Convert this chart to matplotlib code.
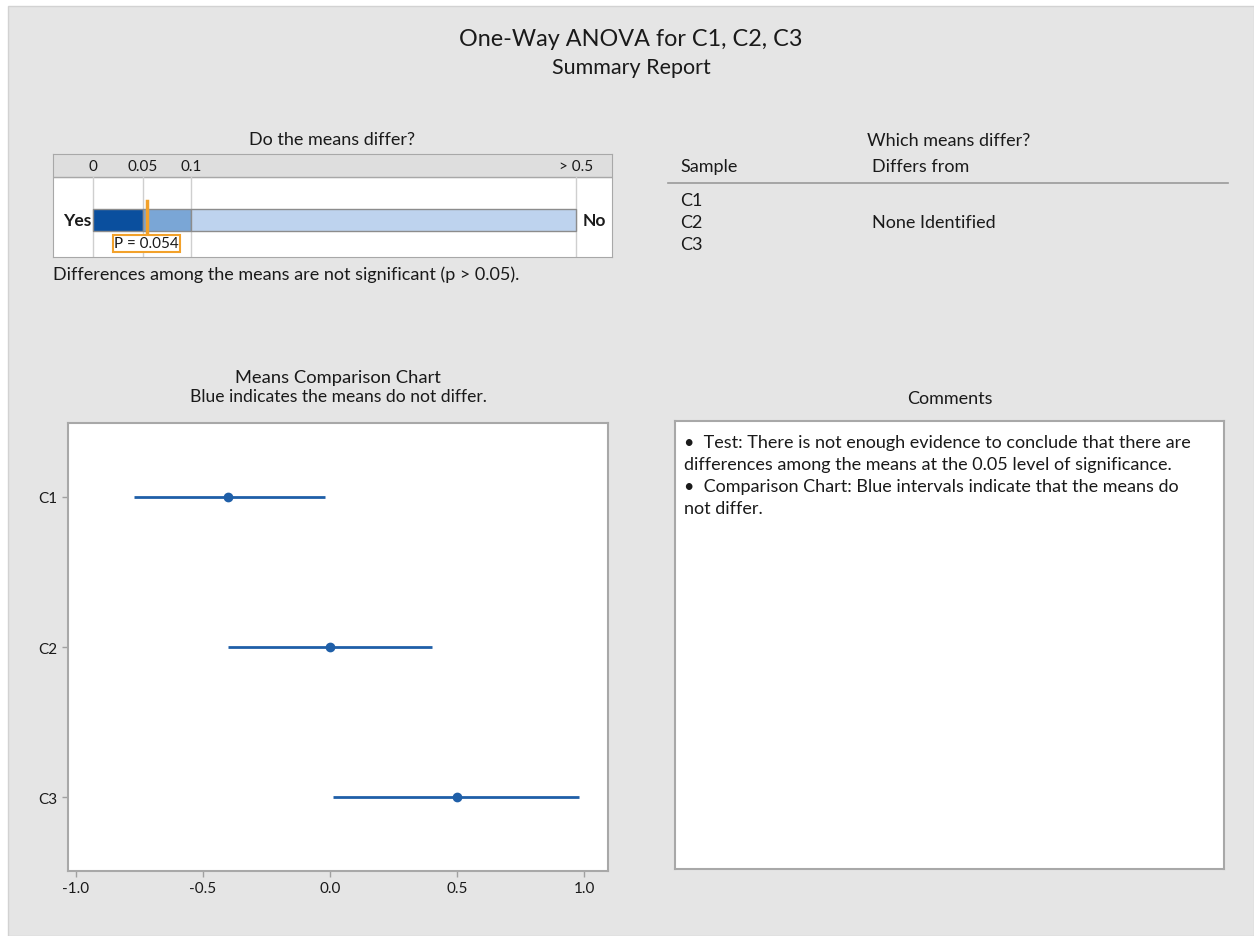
import numpy as np
import matplotlib.pyplot as plt
from matplotlib.patches import Rectangle

plt.rcParams['font.family'] = ['Lato', 'DejaVu Sans']

# p-value scale and result
p_ticks = [0, 0.05, 0.1, 0.5]
p_tick_labels = ['0', '0.05', '0.1', '> 0.5']
p_value = 0.054

# means comparison intervals
samples = ['C1', 'C2', 'C3']
means = [-0.40, 0.00, 0.50]
lower = [-0.77, -0.40, 0.01]
upper = [-0.02, 0.40, 0.98]
x_ticks = [-1.0, -0.5, 0.0, 0.5, 1.0]

comments = [
    "\u2022  Test: There is not enough evidence to conclude that there are",
    "differences among the means at the 0.05 level of significance.",
    "\u2022  Comparison Chart: Blue intervals indicate that the means do",
    "not differ.",
]

W, H = 1254, 937
fig = plt.figure(figsize=(W / 100, H / 100), dpi=100, facecolor='white')


def fx(x):
    return x / W


def fy(y):
    return 1 - y / H


def rect(x0, y0, x1, y1):
    return [x0 / W, 1 - y1 / H, (x1 - x0) / W, (y1 - y0) / H]


bg = '#e5e5e5'
fig.add_artist(Rectangle((fx(8), 0), fx(1254 - 8), fy(7), transform=fig.transFigure,
                         facecolor=bg, edgecolor='#d2d2d2', lw=1, zorder=0))

txt = '#1a1a1a'
body = 13
fig.text(fx(631), fy(40), 'One-Way ANOVA for C1, C2, C3', ha='center', va='center',
         fontsize=16.8, color=txt)
fig.text(fx(631), fy(68), 'Summary Report', ha='center', va='center', fontsize=15.5, color=txt)

# ---- Do the means differ? ----
fig.text(fx(332), fy(140), 'Do the means differ?', ha='center', va='center', fontsize=body, color=txt)
axp = fig.add_axes(rect(53, 155, 612, 258))
axp.set_xlim(53, 612)
axp.set_ylim(258, 155)
axp.set_xticks([])
axp.set_yticks([])
for s in axp.spines.values():
    s.set_color('#a8a8a8')
tick_px = [93, 143, 191, 576]  # where each scale tick sits in the box


def p2x(p):
    return np.interp(p, p_ticks, tick_px)


axp.axhspan(155, 178, color='#dedede', zorder=0)
axp.axhline(178, color='#a8a8a8', lw=1)
for p, lab in zip(p_ticks, p_tick_labels):
    axp.plot([p2x(p)] * 2, [178, 258], color='#cfcfcf', lw=1)
    axp.text(p2x(p), 167, lab, ha='center', va='center', fontsize=11, color=txt)
seg_colors = ['#0a4f9e', '#7aa6d6', '#bed3ee']
for i in range(3):
    x0, x1 = p2x(p_ticks[i]), p2x(p_ticks[i + 1])
    axp.add_patch(Rectangle((x0, 210), x1 - x0, 22, facecolor=seg_colors[i],
                            edgecolor='#8c8c8c', lw=1, zorder=2))
px = p2x(p_value)
axp.plot([px, px], [202, 236], color='#f2a12a', lw=2.5, zorder=3)
axp.text(px, 244.5, f'P = {p_value:.3f}', ha='center', va='center', fontsize=11, color=txt,
         bbox=dict(boxstyle='square,pad=0.08', facecolor='white', edgecolor='#f2a12a', lw=1.5),
         zorder=4)
axp.text(p2x(0) - 2, 221, 'Yes', ha='right', va='center', fontsize=12.5, fontweight='bold', color=txt)
axp.text(p2x(0.5) + 7, 221, 'No', ha='left', va='center', fontsize=12.5, fontweight='bold', color=txt)
fig.text(fx(53), fy(275), 'Differences among the means are not significant (p > 0.05).',
         ha='left', va='center', fontsize=body, color=txt)

# ---- Which means differ? ----
fig.text(fx(949), fy(141), 'Which means differ?', ha='center', va='center', fontsize=body, color=txt)
fig.text(fx(680), fy(167), 'Sample', ha='left', va='center', fontsize=body, color=txt)
fig.text(fx(872), fy(167), 'Differs from', ha='left', va='center', fontsize=body, color=txt)
fig.add_artist(plt.Line2D([fx(668), fx(1228)], [fy(184), fy(184)], color='#9a9a9a', lw=1.2))
for i, s in enumerate(samples):
    fig.text(fx(680), fy(201 + 22 * i), s, ha='left', va='center', fontsize=body, color=txt)
fig.text(fx(872), fy(223), 'None Identified', ha='left', va='center', fontsize=body, color=txt)

# ---- Means Comparison Chart ----
fig.text(fx(338), fy(378), 'Means Comparison Chart', ha='center', va='center', fontsize=13.2, color=txt)
fig.text(fx(338), fy(397), 'Blue indicates the means do not differ.', ha='center', va='center',
         fontsize=12.6, color=txt)
axm = fig.add_axes(rect(68, 424, 608, 872))
axm.set_facecolor('white')
line_c = '#1f5fa8'
ypos = np.arange(len(samples))
axm.hlines(ypos, lower, upper, color=line_c, lw=2)
axm.plot(means, ypos, 'o', color=line_c, ms=6)
axm.set_xlim(-1.031, 1.094)
axm.set_ylim(2.49, -0.49)
axm.set_xticks(x_ticks)
axm.set_xticklabels([f'{v:.1f}' for v in x_ticks])
axm.set_yticks(ypos)
axm.set_yticklabels(samples)
axm.tick_params(colors='#a0a0a0', labelcolor=txt, labelsize=11, length=4, width=1)
for s in axm.spines.values():
    s.set_color('#a8a8a8')
    s.set_linewidth(1.5)

# ---- Comments ----
fig.text(fx(950), fy(399), 'Comments', ha='center', va='center', fontsize=13, color=txt)
axc = fig.add_axes(rect(675, 422, 1224, 870))
axc.set_xticks([])
axc.set_yticks([])
for s in axc.spines.values():
    s.set_color('#a8a8a8')
    s.set_linewidth(1.5)
for i, line in enumerate(comments):
    fig.text(fx(684), fy(443 + 22 * i), line, ha='left', va='center', fontsize=body, color=txt)

fig.savefig('out.png', dpi=100, facecolor='white')
